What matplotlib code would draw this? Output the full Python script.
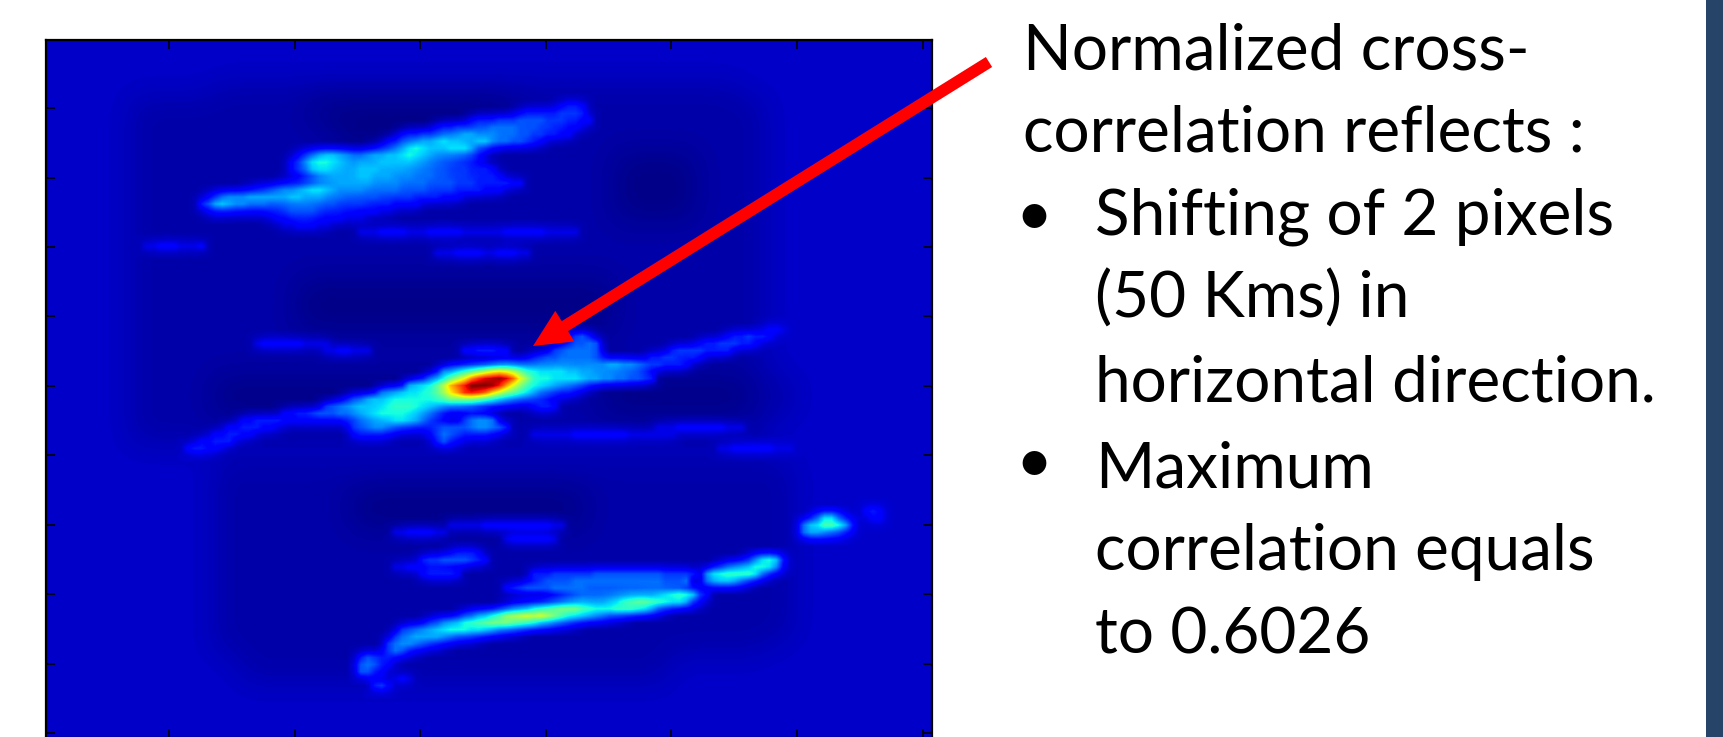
import matplotlib

matplotlib.use('agg')

import matplotlib.pyplot as plt
import numpy as np
from matplotlib.patches import FancyArrowPatch, Rectangle

W, H = 1723, 737

# base levels of the map (base 36 character per coarse cell)
background_rows = [
    "22222222 22222222 22222222 22222222 22222222 22222222 22222222 22222222",
    "22222222 22222222 22222222 22222222 22222222 22222222 22222222 22222222",
    "22222222 22222222 22222222 22222222 22222222 22222222 22222222 22222222",
    "22222222 22221111 11111111 11111111 11111111 11111111 11222222 22222222",
    "22222211 11111111 11100000 00000000 00111111 11111111 11112222 22222222",
    "22222211 11111111 11100000 00000000 00111111 11111111 11112222 22222222",
    "22222211 11111111 11111000 00000000 11111111 11111111 11112222 22222222",
    "22222211 11111111 11111000 00000000 11111111 11111111 11112222 22222222",
    "22222211 11111111 11111111 11111111 11111111 10000001 11112222 22222222",
    "22222211 11111111 11111111 11111111 11111111 10000001 11112222 22222222",
    "22222211 11111111 11111111 11111111 11111111 10000001 11112222 22222222",
    "22222211 11111111 11111111 11111111 11111111 10000001 11112222 22222222",
    "22222211 11111111 11111111 11111111 11111111 10000001 11112222 22222222",
    "22222211 11111111 11111111 11111111 11111111 11111111 11112222 22222222",
    "22222211 11111111 11111111 11111111 11111111 11111111 11112222 22222222",
    "22222211 11111111 11111111 11111111 11111111 11111111 11112222 22222222",
    "22222211 11111111 11111111 11111111 11111111 11111111 11112222 22222222",
    "22222211 11111111 11000000 00000000 00000000 01111111 11112222 22222222",
    "22222211 11111111 11000000 00000000 00000000 01111111 11112222 22222222",
    "22222211 11111111 11000000 00000000 00000000 01111111 11112222 22222222",
    "22222211 11111111 11000000 00000000 00000000 01111111 11112222 22222222",
    "22222211 11111111 11111111 11111111 11111111 11111111 11112222 22222222",
    "22222211 11111111 11111111 11111111 11111111 11111111 11112222 22222222",
    "22222211 11111111 11111111 11111111 11111111 11111111 11112222 22222222",
    "22222211 11110000 00000000 00000111 11111111 00000000 00011122 22222222",
    "22222211 11110000 00000000 00000111 11111111 00000000 00011122 22222222",
    "22222211 11110000 00000000 00000111 11111111 00000000 00011122 22222222",
    "22222211 11111111 11111111 11111111 11111111 11111111 11112222 22222222",
    "22222211 11111111 11111111 11111111 11111111 11111111 11112222 22222222",
    "22222222 22222222 22222222 22222222 22222222 22222222 22222222 22222222",
    "22222222 22221111 11111111 11111111 11111111 11111111 11111122 22222222",
    "22222222 22221111 11111111 11111111 11111111 11111111 11111122 22222222",
    "22222222 22221111 11111100 00000000 00000001 11111111 11111122 22222222",
    "22222222 22221111 11111100 00000000 00000001 11111111 11111122 22222222",
    "22222222 22221111 11111100 00000000 00000001 11111111 11111122 22222222",
    "22222222 22221111 11111111 11111111 11111111 11111111 11111122 22222222",
    "22222222 22221111 11111111 11111111 11111111 11111111 11111122 22222222",
    "22222222 22221111 11111111 11111111 11111111 11111111 11111122 22222222",
    "22222222 22221111 11111111 11111111 11111111 11111111 11111122 22222222",
    "22222222 22221111 11111111 11111111 11111111 11111111 11111122 22222222",
    "22222222 22221111 11111111 11111111 11111111 11111111 11111122 22222222",
    "22222222 22221111 11111111 11111111 11111111 11111111 11111122 22222222",
    "22222222 22221111 11111111 11111111 11111111 11111111 11111122 22222222",
    "22222222 22221111 11111111 11111111 11111111 11111111 11112222 22222222",
    "22222222 22222211 11111111 11111111 11111111 11111222 22222222 22222222",
    "22222222 22222211 11111111 11111111 11111111 11111222 22222222 22222222",
    "22222222 22222222 22222222 22222222 22222222 22222222 22222222 22222222",
    "22222222 22222222 22222222 22222222 22222222 22222222 22222222 22222222",
    "22222222 22222222 22222222 22222222 22222222 22222222 22222222 22222222",
    "22222222 22222222 22222222 22222222 22222222 22222222 22222222 22222222",
]

# brighter streaks on the fine grid: (row, first column, levels)
upper_streaks = [
    (9, 74, "4554"),
    (10, 68, "4555556665"),
    (11, 61, "455566677776665544"),
    (12, 56, "4556667788887776655443"),
    (13, 51, "455667889aa99988877665544"),
    (14, 49, "45789aabcbbaabb98877654"),
    (15, 47, "4568acdcbbbccca754"),
    (16, 36, "468abba9889aabbcdcba9887654"),
    (17, 35, "469cddcba9aaabbbbba987766554"),
    (18, 35, "468bccbaaabbbaaaa9988776665554"),
    (19, 38, "568aaaabbaaa9998887766655554"),
    (20, 34, "44567899aaaaa99998888777766655555 44"),
    (21, 29, "4567899abccba9999888887777666655554 44"),
    (22, 23, "468999aaaaaabbaaa98877777666665555444"),
    (23, 22, "57aba9988877778887776666555544 44"),
    (24, 23, "455444444556777765554444433"),
    (25, 32, "34455554444333"),
    (26, 34, "3344433"),
    (27, 45, "33344443334444433333344444433333"),
    (29, 14, "334443334"),
    (30, 56, "33344443344433"),
]

middle_streaks = [
    (41, 103, "3443"),
    (42, 75, "4675"),
    (42, 98, "4556554"),
    (43, 30, "34444443333"),
    (43, 75, "57787"),
    (43, 94, "455666554"),
    (44, 40, "3344333"),
    (44, 60, "4455544"),
    (44, 73, "6788887"),
    (44, 90, "566665555"),
    (45, 70, "5677888887"),
    (45, 87, "55665554"),
    (46, 65, "566788888888899 9aa99876655 54"),
    (47, 57, "9acegikmnmkhedccccbbaa99887765"),
    (48, 55, "8aceimruwxywsmiedd ccccbaa9988776 5"),
    (49, 52, "abcdgkpsvzzzyvqlhedcba9876 5"),
    (50, 48, "89abccdegjnquvusoligeca87655 4"),
    (51, 43, "578abbcddddddefhhhgfedb98765 4"),
    (52, 40, "6789abbbcdeeedcba98765 4"),
    (52, 70, "4554"),
    (53, 34, "4455677788 9abcddddcb975"),
    (54, 28, "445555444444444467 89abccba8654"),
    (54, 60, "68998"),
    (55, 26, "44555443"),
    (55, 44, "6789987655556777 7899875"),
    (55, 88, "3334444444333"),
    (56, 24, "445544"),
    (56, 44, "45555 4"),
    (56, 55, "468765555 4"),
    (56, 70, "333333444444443333333"),
    (57, 22, "44555"),
    (57, 56, "5754"),
    (58, 20, "4554 4"),
    (58, 97, "3344444433 3"),
]

lower_streaks = [
    (67, 118, "454"),
    (68, 111, "8cc84"),
    (68, 119, "44"),
    (69, 58, "33333444444444433"),
    (69, 109, "8bcffda5"),
    (70, 50, "33444433"),
    (70, 109, "8aa9875"),
    (71, 66, "34444443"),
    (73, 58, "45554"),
    (74, 54, "5667777654"),
    (74, 101, "69cdb5"),
    (75, 50, "3344443"),
    (75, 97, "689abddc94"),
    (76, 54, "455554"),
    (76, 70, "55566666677777777776666 5"),
    (76, 95, "9cdeeeec84"),
    (77, 70, "56777788888888888887778"),
    (77, 95, "8abba85"),
    (78, 66, "456777788888777777766654"),
    (79, 76, "6777777889 9abcdedb64"),
    (80, 73, "6789999abcefggfedcca64"),
    (81, 66, "689bdefghhhfeddd eeedca74"),
    (82, 60, "78abdfijklkljhfdcba9865 4"),
    (83, 55, "679abdefghhhgfedba8654"),
    (84, 51, "6789abcdddccba8654"),
    (85, 50, "689aaaa98765 4"),
    (86, 49, "689987654"),
    (87, 49, "68754"),
    (88, 45, "576554"),
    (89, 45, "78754"),
    (90, 45, "7754"),
    (91, 50, "343"),
    (92, 47, "564"),
]

x_ticks = [20, 40, 60, 80, 100, 120, 140]
y_ticks = [10, 20, 30, 40, 50, 60, 70, 80, 90, 100]

text_lines = [
    "Normalized cross-",
    "correlation reflects :",
    "Shifting of 2 pixels",
    "(50 Kms) in",
    "horizontal direction.",
    "Maximum",
    "correlation equals",
    "to 0.6026",
]
line_x = [1023, 1023, 1095, 1095, 1095, 1095, 1095, 1095]
line_y = [69, 152, 235, 318, 401, 487, 570, 653]
bullet_y = [235, 482]


def soften(a, n, passes=1):
    # box filter to take the hard edges off the hand read grid
    k = np.ones(n) / n
    for _ in range(passes):
        a = np.pad(a, n, mode='edge')
        a = np.apply_along_axis(lambda m: np.convolve(m, k, mode='same'), 0, a)
        a = np.apply_along_axis(lambda m: np.convolve(m, k, mode='same'), 1, a)
        a = a[n:-n, n:-n]
    return a


base = np.array([[int(c, 36) for c in r.replace(' ', '')] for r in background_rows], dtype=float)
corr = soften(np.kron(base, np.ones((2, 2))), 5, 2)
for row, col, levels in upper_streaks + middle_streaks + lower_streaks:
    vals = [int(c, 36) for c in levels.replace(' ', '')]
    for j, v in enumerate(vals):
        corr[row, col + j] = max(corr[row, col + j], v)
corr = np.maximum(corr, soften(corr, 3))

plt.rcParams['font.family'] = ['Lato', 'DejaVu Sans']
fig = plt.figure(figsize=(W / 100, H / 100), dpi=100, facecolor='white')
ax = fig.add_axes([46 / W, -1 / H, 886 / W, 698 / H])
ax.imshow(corr, cmap='jet', vmin=-0.3, vmax=35, aspect='auto', interpolation='bilinear',
          extent=(0.4, 141.5, 100.7, 0.2))
ax.set_xticks(x_ticks)
ax.set_yticks(y_ticks)
ax.tick_params(direction='in', length=6.5, width=1.2, top=True, right=True,
               labelbottom=False, labelleft=False)
for s in ax.spines.values():
    s.set_linewidth(1.6)

# side band of the slide
fig.add_artist(Rectangle((1706 / W, 0), 17 / W, 1, transform=fig.transFigure,
                         color='#264468', lw=0))

# red arrow, in pixels
arrow = FancyArrowPatch((989, H - 62), (533, H - 346), transform=None,
                        arrowstyle='Simple,tail_width=8.5,head_width=26,head_length=27',
                        mutation_scale=1, color='#ff0000', lw=0, shrinkA=0, shrinkB=0)
fig.add_artist(arrow)

for x, y, line in zip(line_x, line_y, text_lines):
    fig.text(x / W, 1 - y / H, line, fontsize=46, color='black', va='baseline', ha='left')
for y in bullet_y:
    fig.text(1034 / W, 1 - y / H, "\u2022", fontsize=46, color='black',
             va='baseline', ha='center')

fig.savefig('out.png', dpi=100)
